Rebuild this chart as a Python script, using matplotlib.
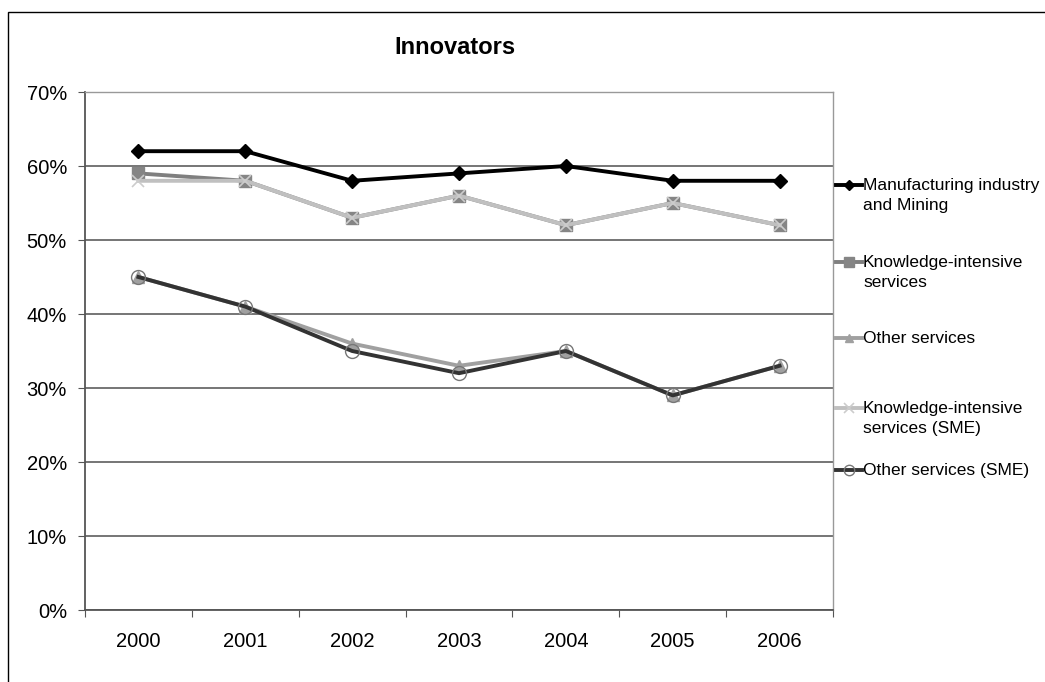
import matplotlib
matplotlib.use("Agg")
import matplotlib.pyplot as plt
from matplotlib.lines import Line2D
from matplotlib.patches import Rectangle
from matplotlib.ticker import FuncFormatter, MultipleLocator

plt.rcParams["font.family"] = ["Liberation Sans", "DejaVu Sans"]

# ── data ──────────────────────────────────────
years = ["2000", "2001", "2002", "2003", "2004", "2005", "2006"]
manufacturing = [62, 62, 58, 59, 60, 58, 58]
kis = [59, 58, 53, 56, 52, 55, 52]
other = [45, 41, 36, 33, 35, 29, 33]
kis_sme = [58, 58, 53, 56, 52, 55, 52]
other_sme = [45, 41, 35, 32, 35, 29, 33]

labels = ["Manufacturing industry\nand Mining",
          "Knowledge-intensive\nservices",
          "Other services",
          "Knowledge-intensive\nservices (SME)",
          "Other services (SME)"]

W, H = 1045, 682
fig = plt.figure(figsize=(W / 100, H / 100), dpi=100)
fig.patch.set_facecolor("white")
# outer chart frame (cut at right/bottom like the reference)
fig.patches.append(Rectangle((8 / W, -0.05), 1.2, (H - 12) / H + 0.05,
                             transform=fig.transFigure, fill=False,
                             edgecolor="black", linewidth=1.0))

ax = fig.add_axes([85 / W, 1 - 610 / H, (833 - 85) / W, (610 - 92) / H])
x = list(range(len(years)))

styles = [
    dict(color="black", marker="D", ms=7, mfc="black", mec="black", zorder=6),
    dict(color="#7f7f7f", marker="s", ms=9, mfc="#858585", mec="#858585", zorder=3),
    dict(color="#a0a0a0", marker="^", ms=8, mfc="#a0a0a0", mec="#a0a0a0", zorder=3),
    dict(color="#c0c0c0", marker="x", ms=9, mec="#cccccc", mew=1.2, zorder=4),
    dict(color="#333333", marker="o", ms=10, mfc="none", mec="#777777", mew=1.0, zorder=5),
]
series = [manufacturing, kis, other, kis_sme, other_sme]
for vals, st, lab in zip(series, styles, labels):
    ax.plot(x, vals, lw=2.8, label=lab, **st)

ax.set_xlim(-0.5, len(years) - 0.5)
ax.set_ylim(0, 70)
ax.yaxis.set_major_locator(MultipleLocator(10))
ax.yaxis.set_major_formatter(FuncFormatter(lambda v, p: f"{v:.0f}%"))
ax.set_xticks([i - 0.5 for i in range(len(years) + 1)])
ax.set_xticklabels([])
ax.set_xticks(x, minor=True)
ax.set_xticklabels(years, minor=True)
ax.tick_params(axis="x", which="minor", length=0, pad=16, labelsize=14.5)
ax.tick_params(axis="x", which="major", length=5, color="#555555", direction="out")
ax.tick_params(axis="y", length=5, color="#555555", direction="out", pad=8, labelsize=14.5)

ax.grid(axis="y", color="#6a6a6a", linewidth=1.3)
ax.set_axisbelow(True)
for side in ["top", "right"]:
    ax.spines[side].set_color("#999999")
    ax.spines[side].set_linewidth(1.0)
for side in ["left", "bottom"]:
    ax.spines[side].set_color("#555555")
    ax.spines[side].set_linewidth(1.3)

fig.text(455 / W, 1 - 47 / H, "Innovators", ha="center", va="center",
         fontsize=17, fontweight="bold")

# legend drawn entry by entry, marker on the first line of each label
legend_y = [185, 262, 338, 408, 470]
for st, lab, yy in zip(styles, labels, legend_y):
    yf = 1 - yy / H
    st_leg = {k: v for k, v in st.items() if k != "zorder"}
    st_leg["ms"] = st_leg["ms"] * 0.75
    fig.add_artist(Line2D([836 / W, 849 / W, 862 / W], [yf, yf, yf], lw=2.8,
                          transform=fig.transFigure, markevery=[1], **st_leg))
    fig.text(863 / W, yf + 7 / H, lab, ha="left", va="top", fontsize=12.5,
             linespacing=1.4)

fig.savefig("out.png", dpi=100)
